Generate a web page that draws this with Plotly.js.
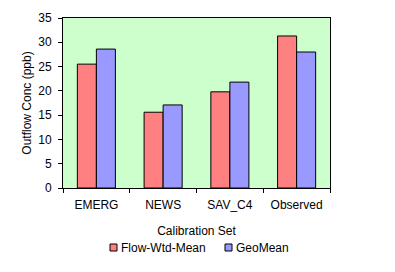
<!DOCTYPE html>
<html><head><meta charset="utf-8">
<script src="https://cdn.plot.ly/plotly-3.0.1.min.js"></script>
<style>html,body{margin:0;padding:0;background:#fff}</style>
</head><body>
<div id="chart" style="width:395px;height:272px"></div>
<script>
const categories = ["EMERG", "NEWS", "SAV_C4", "Observed"];
const seriesNames = ["Flow-Wtd-Mean", "GeoMean"];
const flowWtdMean = [25.5, 15.6, 19.8, 31.3];
const geoMean = [28.6, 17.1, 21.8, 28.0];
const yTicks = [0, 5, 10, 15, 20, 25, 30, 35];
const colors = ["#FF8080", "#9999FF"];

const font = {family: "Liberation Sans, Arial, sans-serif", size: 12, color: "#000"};
const traces = [
  {type: "bar", name: seriesNames[0], x: categories, y: flowWtdMean, showlegend: false,
   marker: {color: colors[0], line: {color: "#000", width: 1}}},
  {type: "bar", name: seriesNames[1], x: categories, y: geoMean, showlegend: false,
   marker: {color: colors[1], line: {color: "#000", width: 1}}}
];

// custom legend: small bordered squares + text (pixel positions in paper coords)
const W = 395, H = 272, mL = 63, mR = 65, mT = 18, mB = 84;
const pw = W - mL - mR, ph = H - mT - mB;
const px = x => (x - mL) / pw;
const py = y => (H - mB - y) / ph;
const legendX = [110, 225];
const legendY = 247.5;
const shapes = legendX.map((lx, i) => ({
  type: "rect", xref: "paper", yref: "paper",
  x0: px(lx), x1: px(lx + 7), y0: py(legendY + 3.5), y1: py(legendY - 3.5),
  fillcolor: colors[i], line: {color: "#000", width: 1}
}));
const annotations = legendX.map((lx, i) => ({
  xref: "paper", yref: "paper", x: px(lx + 8.5), y: py(legendY),
  xanchor: "left", yanchor: "middle", showarrow: false,
  text: seriesNames[i], font: font
}));

const layout = {
  width: W, height: H,
  margin: {l: mL, r: mR, t: mT, b: mB, autoexpand: false},
  paper_bgcolor: "#fff", plot_bgcolor: "#CCFFCC",
  font: font,
  barmode: "group", bargap: 0.43, bargroupgap: 0,
  showlegend: false,
  shapes: shapes, annotations: annotations,
  xaxis: {type: "category", tickson: "boundaries", ticks: "outside", ticklen: 4,
          tickcolor: "#000", showline: true, linecolor: "#000", linewidth: 1, mirror: true,
          showgrid: false, tickfont: font, automargin: false, ticklabelstandoff: 6,
          title: {text: "Calibration Set", font: font, standoff: 15}},
  yaxis: {range: [0, 35], tickvals: yTicks, ticks: "outside", ticklen: 4, tickcolor: "#000",
          showline: true, linecolor: "#000", linewidth: 1, mirror: true, automargin: false,
          showgrid: false, zeroline: false, tickfont: font, ticklabelstandoff: 4,
          title: {text: "Outflow Conc (ppb)", font: font, standoff: 4}}
};
Plotly.newPlot("chart", traces, layout, {displayModeBar: false, staticPlot: true});
</script>
</body></html>
